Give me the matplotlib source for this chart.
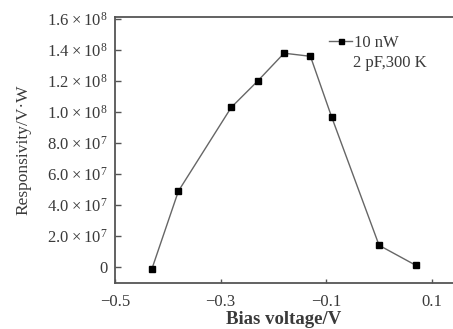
import matplotlib
matplotlib.use("Agg")
import matplotlib.pyplot as plt

plt.rcParams['font.family'] = ['Liberation Serif', 'DejaVu Serif']
plt.rcParams['mathtext.fontset'] = 'custom'
plt.rcParams['mathtext.rm'] = 'Liberation Serif'

# bias voltage (V) and responsivity (V/W)
bias = [-0.43, -0.38, -0.28, -0.23, -0.18, -0.13, -0.09, 0.0, 0.07]
resp = [-0.1e7, 4.9e7, 1.03e8, 1.2e8, 1.38e8, 1.36e8, 9.7e7, 1.4e7, 0.1e7]

xticks = [-0.5, -0.3, -0.1, 0.1]
xtick_labels = ['\u22120.5', '\u22120.3', '\u22120.1', '0.1']
yticks = [0, 2e7, 4e7, 6e7, 8e7, 1.0e8, 1.2e8, 1.4e8, 1.6e8]
ytick_labels = ['0'] + [r'$\mathregular{%.1f\times10^{%d}}$' % (v / 10 ** (7 if v < 1e8 else 8), 7 if v < 1e8 else 8)
                        for v in yticks[1:]]

txt = '#3a3a3a'
fig = plt.figure(figsize=(4.53, 3.29), dpi=100)
ax = fig.add_axes([0.254, 0.140, 0.746, 0.808])

ax.plot(bias, resp, color='#666666', lw=1.0, marker='s', ms=4.5,
        mfc='black', mec='black', label='10 nW')

ax.set_xlim(-0.5, 0.14)
ax.set_ylim(-1.03e7, 1.613e8)
ax.set_xticks(xticks)
ax.set_xticklabels(xtick_labels)
ax.set_yticks(yticks)
ax.set_yticklabels(ytick_labels)

ax.spines['right'].set_visible(False)
for s in ['left', 'bottom', 'top']:
    ax.spines[s].set_color('#555555')
    ax.spines[s].set_linewidth(1.3)
ax.tick_params(axis='both', direction='in', colors='#555555', labelcolor=txt,
               labelsize=12, length=4, width=1.0, pad=5)
ax.tick_params(axis='x', length=3, pad=8)

ax.set_xlabel('Bias voltage/V', fontsize=13.5, color=txt, fontweight='bold', labelpad=1)
ax.set_ylabel('Responsivity/V\u00b7W', fontsize=12.5, color=txt, labelpad=11)

leg = ax.legend(loc='center left', bbox_to_anchor=(0.633, 0.902), frameon=False,
                handlelength=1.4, handletextpad=0.1, fontsize=12,
                borderpad=0, borderaxespad=0, markerscale=0.8)
for t in leg.get_texts():
    t.set_color(txt)
ax.text(0.704, 0.827, '2 pF,300 K', transform=ax.transAxes, fontsize=12,
        color=txt, va='center', ha='left')

fig.savefig('out.png', dpi=100)
